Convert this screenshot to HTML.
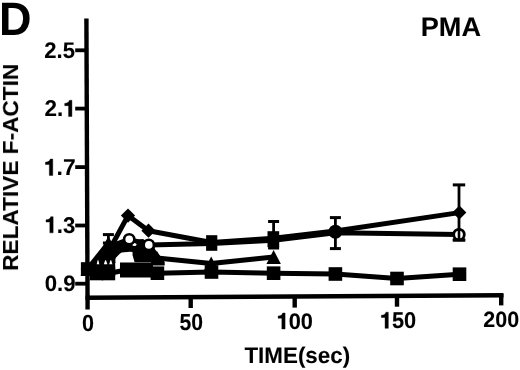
<!DOCTYPE html>
<html><head><meta charset="utf-8">
<style>
html,body{margin:0;padding:0;background:#fff;}
body{width:520px;height:370px;overflow:hidden;}
svg{display:block;}
text{-webkit-font-smoothing:antialiased;text-rendering:geometricPrecision;}
svg g{will-change:transform;}
.ns text,.ns path{vector-effect:non-scaling-stroke;}
text{font-family:"Liberation Sans",sans-serif;font-weight:bold;fill:#000;}
</style></head>
<body>
<svg width="520" height="370" viewBox="0 0 520 370">
<g transform="matrix(0.22030,0,0,0.22535,44.339,57.975)" stroke="#000" stroke-width="0.4" class="ns"><text x="0.00" y="0" font-size="100">2</text><text x="55.60" y="0" font-size="100">.</text><text x="83.40" y="0" font-size="100">5</text></g>
<g transform="matrix(0.22417,0,0,0.22817,44.428,116.500)" stroke="#000" stroke-width="0.4" class="ns"><text x="0.00" y="0" font-size="100">2</text><text x="55.60" y="0" font-size="100">.</text><path transform="translate(83.40,0)" d="M39.2,0 L39.2,-71 L28.2,-71 C26.5,-64 22,-58.5 7,-57.2 L7,-47.5 L24.2,-47.5 L24.2,0 Z"/></g>
<g transform="matrix(0.22891,0,0,0.22958,43.798,175.400)" stroke="#000" stroke-width="0.4" class="ns"><path transform="translate(0.00,0)" d="M39.2,0 L39.2,-71 L28.2,-71 C26.5,-64 22,-58.5 7,-57.2 L7,-47.5 L24.2,-47.5 L24.2,0 Z"/><text x="55.60" y="0" font-size="100">.</text><text x="83.40" y="0" font-size="100">7</text></g>
<g transform="matrix(0.22187,0,0,0.22778,44.447,232.872)" stroke="#000" stroke-width="0.4" class="ns"><path transform="translate(0.00,0)" d="M39.2,0 L39.2,-71 L28.2,-71 C26.5,-64 22,-58.5 7,-57.2 L7,-47.5 L24.2,-47.5 L24.2,0 Z"/><text x="55.60" y="0" font-size="100">.</text><text x="83.40" y="0" font-size="100">3</text></g>
<g transform="matrix(0.22137,0,0,0.22394,44.815,291.176)" stroke="#000" stroke-width="0.4" class="ns"><text x="0.00" y="0" font-size="100">0</text><text x="55.60" y="0" font-size="100">.</text><text x="83.40" y="0" font-size="100">9</text></g>
<g transform="matrix(0.21596,0,0,0.23380,81.986,330.766)" stroke="#000" stroke-width="0.4" class="ns"><text x="0.00" y="0" font-size="100">0</text></g>
<g transform="matrix(0.21154,0,0,0.23239,179.465,330.468)" stroke="#000" stroke-width="0.4" class="ns"><text x="0.00" y="0" font-size="100">5</text><text x="55.60" y="0" font-size="100">0</text></g>
<g transform="matrix(0.21731,0,0,0.22500,276.579,328.975)" stroke="#000" stroke-width="0.4" class="ns"><path transform="translate(0.00,0)" d="M39.2,0 L39.2,-71 L28.2,-71 C26.5,-64 22,-58.5 7,-57.2 L7,-47.5 L24.2,-47.5 L24.2,0 Z"/><text x="55.60" y="0" font-size="100">0</text><text x="111.20" y="0" font-size="100">0</text></g>
<g transform="matrix(0.21795,0,0,0.22778,379.774,328.372)" stroke="#000" stroke-width="0.4" class="ns"><path transform="translate(0.00,0)" d="M39.2,0 L39.2,-71 L28.2,-71 C26.5,-64 22,-58.5 7,-57.2 L7,-47.5 L24.2,-47.5 L24.2,0 Z"/><text x="55.60" y="0" font-size="100">5</text><text x="111.20" y="0" font-size="100">0</text></g>
<g transform="matrix(0.21437,0,0,0.22113,483.357,327.479)" stroke="#000" stroke-width="0.4" class="ns"><text x="0.00" y="0" font-size="100">2</text><text x="55.60" y="0" font-size="100">0</text><text x="111.20" y="0" font-size="100">0</text></g>
<g transform="matrix(0.45000,0,0,0.46855,-1.100,34.600)"><text x="0" y="0" font-size="100" letter-spacing="0">D</text></g>
<g transform="matrix(0.27170,0,0,0.26812,420.748,36.150)" stroke="#000" stroke-width="0.3" class="ns"><text x="0" y="0" font-size="100" letter-spacing="0">PMA</text></g>
<g transform="matrix(0.22403,0,0,0.22581,244.376,363.358)" stroke="#000" stroke-width="0.4" class="ns"><text x="0" y="0" font-size="100" letter-spacing="0">TIME(sec)</text></g>
<g transform="matrix(0,-0.22642,0.21690,0,17.783,270.885)" stroke="#000" stroke-width="0.4" class="ns"><text x="0" y="0" font-size="100" letter-spacing="0">RELATIVE F-ACTIN</text></g>
<g stroke="#000" fill="none">
<line x1="86.4" y1="18.4" x2="87.6" y2="309.6" stroke-width="4.4"/>
<line x1="85.5" y1="297.7" x2="503.5" y2="295.2" stroke-width="4.6"/>
<g stroke-width="3.8">
<line x1="75.2" y1="50.3" x2="86" y2="50.3"/>
<line x1="75.2" y1="108.6" x2="86" y2="108.6"/>
<line x1="75.2" y1="167.1" x2="86" y2="167.1"/>
<line x1="75.2" y1="225.5" x2="86" y2="225.5"/>
<line x1="75.2" y1="283.7" x2="86" y2="283.7"/>
</g>
<g stroke-width="4.4">
<line x1="190.7" y1="296" x2="190.7" y2="308"/>
<line x1="294.7" y1="296" x2="294.7" y2="307.6"/>
<line x1="397" y1="295" x2="397" y2="306.7"/>
<line x1="501.2" y1="294" x2="501.2" y2="305.4"/>
</g>
</g>
<g>
<polyline points="87.7,269.0 96.5,273.5 108.4,273.5 127.2,269.8 145.8,269.8 157.4,273.2 211.5,272.0 273.6,273.2 335.4,274.0 397.0,278.5 459.5,274.2" fill="none" stroke="#000" stroke-width="5.0" stroke-linejoin="round"/>
<polyline points="87.7,269.0 98.0,262.0 108.4,252.0 129.0,248.0 142.7,254.0 157.0,258.0 211.2,263.5 273.6,257.0" fill="none" stroke="#000" stroke-width="5.0" stroke-linejoin="round"/>
<polyline points="108.4,247.0 129.2,239.3 148.8,244.9 211.7,243.5 273.6,240.2 335.4,232.8 459.0,234.6" fill="none" stroke="#000" stroke-width="5.0" stroke-linejoin="round"/>
<polyline points="87.7,269.0 108.4,251.7 128.0,215.6 148.5,230.7 211.7,242.5 273.6,238.3 335.4,231.0 459.3,212.6" fill="none" stroke="#000" stroke-width="5.0" stroke-linejoin="round"/>
<polyline points="87.7,269.0 108.4,243.0" fill="none" stroke="#000" stroke-width="5.0" stroke-linejoin="round"/>
<line x1="108.4" y1="234.6" x2="108.4" y2="243.0" stroke="#000" stroke-width="2.8"/>
<line x1="102.9" y1="234.6" x2="113.9" y2="234.6" stroke="#000" stroke-width="3"/>
<line x1="102.9" y1="243.0" x2="113.9" y2="243.0" stroke="#000" stroke-width="3"/>
<line x1="273.6" y1="221.5" x2="273.6" y2="248.0" stroke="#000" stroke-width="2.8"/>
<line x1="268.1" y1="221.5" x2="279.1" y2="221.5" stroke="#000" stroke-width="3"/>
<line x1="268.1" y1="248.0" x2="279.1" y2="248.0" stroke="#000" stroke-width="3"/>
<line x1="335.4" y1="217.6" x2="335.4" y2="248.6" stroke="#000" stroke-width="2.8"/>
<line x1="329.9" y1="217.6" x2="340.9" y2="217.6" stroke="#000" stroke-width="3"/>
<line x1="329.9" y1="248.6" x2="340.9" y2="248.6" stroke="#000" stroke-width="3"/>
<line x1="459.0" y1="184.9" x2="459.0" y2="240.0" stroke="#000" stroke-width="2.8"/>
<line x1="452.8" y1="184.9" x2="465.2" y2="184.9" stroke="#000" stroke-width="3"/>
<line x1="452.8" y1="240.0" x2="465.2" y2="240.0" stroke="#000" stroke-width="3"/>
<rect x="80.9" y="262.2" width="13.6" height="13.6"/>
<rect x="89.7" y="266.7" width="13.6" height="13.6"/>
<rect x="101.6" y="266.7" width="13.6" height="13.6"/>
<rect x="120.4" y="263.0" width="13.6" height="13.6"/>
<rect x="139.0" y="263.0" width="13.6" height="13.6"/>
<rect x="150.6" y="266.4" width="13.6" height="13.6"/>
<rect x="204.7" y="265.2" width="13.6" height="13.6"/>
<rect x="266.8" y="266.4" width="13.6" height="13.6"/>
<rect x="328.6" y="267.2" width="13.6" height="13.6"/>
<rect x="390.2" y="271.7" width="13.6" height="13.6"/>
<rect x="452.7" y="267.4" width="13.6" height="13.6"/>
<rect x="120.0" y="262.5" width="33.0" height="15.0"/>
<rect x="89.7" y="262.2" width="13.6" height="13.6"/>
<rect x="101.6" y="262.2" width="13.6" height="13.6"/>
<polygon points="87.7,262.0 95.0,276.0 80.5,276.0"/>
<polygon points="98.0,255.0 105.2,269.0 90.8,269.0"/>
<polygon points="108.4,245.0 115.7,259.0 101.2,259.0"/>
<polygon points="157.0,251.0 164.2,265.0 149.8,265.0"/>
<polygon points="211.2,256.5 218.4,270.5 203.9,270.5"/>
<polygon points="273.6,250.0 280.9,264.0 266.4,264.0"/>
<polygon points="110,245 124,241 131.5,243 136,239.5 143,239 154.5,246 155,249.2 160.3,256 164.7,262 164.7,265.5 151,265.5 151,262.2 134.6,262.2 132.5,255 132.7,251.5 121.6,252.4 119.8,253.8 115.2,258.4 110,258"/>
<ellipse cx="134.4" cy="244.4" rx="2.1" ry="1.5" fill="#fff"/>
<circle cx="129.2" cy="239.3" r="5.10" fill="#fff" stroke="#000" stroke-width="2.6"/>
<circle cx="148.8" cy="244.9" r="5.10" fill="#fff" stroke="#000" stroke-width="2.6"/>
<polygon points="108.4,236.0 115.7,250.0 101.2,250.0"/>
<polygon points="96,255 115,252 115.5,263 95,263"/>
<polygon points="96.7,264.2 99.3,264.2 98.4,260.2 97.6,260.2" fill="#fff"/>
<polygon points="103.8,264.2 107.4,264.2 106.0,260.2 105.2,260.2" fill="#fff"/>
<polygon points="109.2,264.2 112.4,264.2 111.2,260.2 110.4,260.2" fill="#fff"/>
<polygon points="87.7,261.9 94.8,269.0 87.7,276.1 80.6,269.0"/>
<polygon points="108.4,244.6 115.5,251.7 108.4,258.8 101.3,251.7"/>
<polygon points="128.0,208.5 135.1,215.6 128.0,222.7 120.9,215.6"/>
<polygon points="148.5,223.6 155.6,230.7 148.5,237.8 141.4,230.7"/>
<polygon points="459.4,205.6 466.4,212.6 459.4,219.6 452.4,212.6"/>
<rect x="206.1" y="235.2" width="11.2" height="15.6"/>
<rect x="267.5" y="231.2" width="11.7" height="16.0"/>
<circle cx="335.4" cy="231.7" r="7"/>
<circle cx="459.0" cy="234.6" r="5.30" fill="#fff" stroke="#000" stroke-width="2.8"/>
<line x1="459" y1="228" x2="459" y2="240" stroke="#000" stroke-width="2.6"/>
<line x1="452.8" y1="240" x2="465.2" y2="240" stroke="#000" stroke-width="3"/>
</g>
</svg>
</body></html>
